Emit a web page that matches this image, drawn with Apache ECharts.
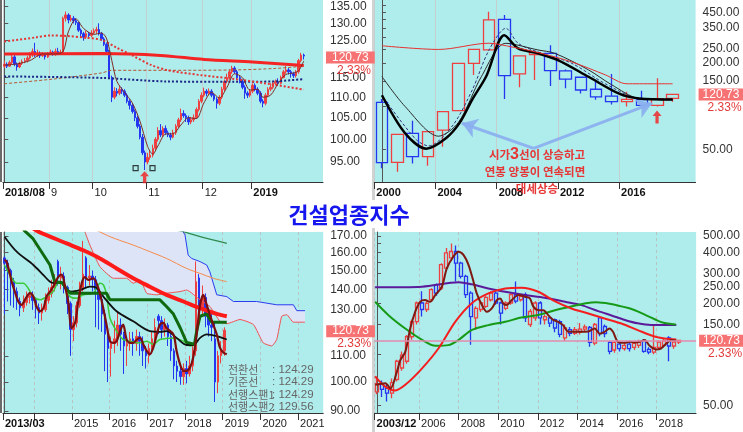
<!DOCTYPE html>
<html>
<head>
<meta charset="utf-8">
<title>건설업종지수</title>
<script src="https://cdn.jsdelivr.net/npm/echarts@6/dist/echarts.min.js"></script>
<style>
  html, body { margin: 0; padding: 0; background: #fff; }
  #chart { width: 743px; height: 432px; }
</style>
</head>
<body>
<div id="chart"></div>
<script>
// 현재가 / 등락률
var lastPrice = 120.73;
var lastRate = '2.33%';

// ---------- 1) 일봉 2018/08 ~ 2019/01  [시가, 종가, 저가, 고가] ----------
var daySlots = 125;
var dayOHLC = [
  [118.0,118.5,117.5,119.5],[118.5,118.0,117.5,119.0],[118.0,119.0,117.8,119.5],[119.0,120.5,118.5,121.5],
  [120.5,118.5,118.0,121.0],[118.5,117.8,116.8,119.0],[117.8,118.8,117.5,119.2],[118.8,119.2,118.3,119.8],
  [119.2,119.5,118.8,120.2],[119.5,120.2,119.0,120.8],[120.2,121.0,119.8,121.8],[121.0,122.0,120.5,122.8],
  [122.0,121.0,120.5,124.4],[121.0,121.5,120.5,122.5],[121.5,120.8,120.2,122.0],[120.8,121.2,120.5,121.8],
  [121.2,120.5,119.8,121.5],[120.5,121.3,120.2,121.8],[121.3,121.8,121.0,122.5],[121.8,121.2,120.8,122.2],
  [121.2,122.0,120.8,122.8],[122.0,121.5,121.0,123.0],[121.5,121.8,121.2,122.5],[121.8,131.5,121.5,132.0],
  [131.5,132.5,130.5,133.5],[132.5,131.0,130.0,133.0],[131.0,131.5,130.5,132.5],[131.5,130.8,130.0,132.2],
  [130.8,130.2,129.5,131.5],[130.2,128.0,127.5,130.5],[128.0,127.0,126.0,128.5],[127.0,126.0,125.0,127.5],
  [126.0,127.0,125.5,127.8],[127.0,126.5,125.8,127.5],[126.5,127.2,126.0,128.0],[127.2,127.8,126.8,128.5],
  [127.8,128.2,127.0,129.0],[128.2,127.0,126.5,130.0],[127.0,125.5,125.0,127.5],[125.5,124.0,123.5,126.0],
  [124.0,122.0,121.5,124.5],[122.0,115.0,114.6,122.5],[115.0,110.0,108.8,115.5],[110.0,111.5,109.5,112.5],
  [111.5,111.0,110.2,112.3],[111.0,112.0,110.5,112.8],[112.0,111.5,110.8,112.5],[111.5,110.5,110.0,112.0],
  [110.5,109.0,108.5,111.0],[109.0,108.0,107.0,109.5],[108.0,106.5,106.0,108.5],[106.5,105.0,104.2,107.0],
  [105.0,103.0,102.5,105.5],[103.0,100.5,100.0,103.5],[100.5,97.0,96.5,101.2],[97.0,95.0,93.3,97.5],
  [95.0,96.0,94.5,97.0],[96.0,96.5,95.5,97.5],[96.5,98.0,96.0,98.8],[98.0,100.0,97.5,100.5],
  [100.0,102.0,99.5,102.8],[102.0,101.0,100.5,103.5],[101.0,102.5,100.5,103.0],[102.5,101.5,101.0,103.2],
  [101.5,101.0,100.5,102.0],[101.0,100.5,99.8,101.5],[100.5,101.5,100.2,102.2],[101.5,103.0,101.0,103.5],
  [103.0,104.5,102.5,105.0],[104.5,106.0,104.0,107.2],[106.0,105.5,105.0,106.8],[105.5,105.0,104.0,106.0],
  [105.0,104.0,103.3,105.5],[104.0,104.5,103.5,105.2],[104.5,105.0,104.0,105.8],[105.0,107.0,104.8,107.5],
  [107.0,109.0,106.5,109.5],[109.0,110.5,108.5,111.2],[110.5,111.5,110.0,112.4],[111.5,111.0,110.2,112.0],
  [111.0,111.5,110.5,112.2],[111.5,110.5,110.0,112.0],[110.5,109.5,109.0,111.0],[109.5,108.5,107.2,110.0],
  [108.5,110.0,108.0,110.5],[110.0,112.0,109.5,112.6],[112.0,114.0,111.5,114.5],[114.0,115.0,113.5,116.0],
  [115.0,116.5,114.5,117.2],[116.5,117.5,116.0,118.1],[117.5,116.5,116.0,118.0],[116.5,115.0,114.5,117.0],
  [115.0,114.0,113.5,115.5],[114.0,112.5,112.0,114.5],[112.5,111.0,109.6,113.0],[111.0,110.5,109.8,111.5],
  [110.5,111.5,110.0,112.0],[111.5,113.0,111.0,113.5],[113.0,112.0,111.5,113.5],[112.0,111.0,110.5,112.5],
  [111.0,109.0,108.5,111.5],[109.0,108.5,107.5,109.5],[108.5,110.5,108.0,111.0],[110.5,112.0,110.0,112.5],
  [112.0,112.5,111.5,113.5],[112.5,113.5,112.0,114.1],[113.5,114.0,113.0,114.5],[114.0,113.5,113.0,114.8],
  [113.5,115.0,113.2,115.5],[115.0,116.5,114.8,117.0],[116.5,117.0,116.0,118.1],[117.0,116.5,115.8,117.5],
  [116.5,116.0,115.0,117.0],[116.0,115.5,114.9,116.5],[115.5,116.5,115.0,117.0],[116.5,119.5,116.0,120.0],
  [119.5,121.0,119.0,121.6],[121.0,120.73,119.8,121.4]
];
var dayMarks = [[-0.5,'2018/08'],[17.5,'9'],[34.5,'10'],[55.5,'11'],[77.5,'12'],[96.5,'2019']];
var dayYLabels = [95,100,105,110,115,125,130,135];
var dayMaThick = [[0,121.3],[38,121.4],[61,120.9],[78,119.8],[97,119.1],[117,118.2]];
var dayMaRedDot = [[0,124.8],[12,125.9],[18,126.5],[25,126.3],[31,125.9],[38,125.2],[44,123.0],[50,120.9],[57,118.4],[64,116.9],[77,115.6],[89,114.7],[103,113.4],[117,111.9]];
var dayMaBlueDot = [[0,115.3],[38,114.9],[63,114.0],[90,113.9],[105,114.0],[117,114.6]];
var dayMaBrown = [[0,113.4],[19,114.6],[38,116.2],[42,116.9],[64,116.9],[90,117.0],[106,117.4],[117,118.0]];
var dayMaShort = [[0,118.3],[5,118.6],[10,119.5],[15,121.3],[20,121.3],[23,122],[25,127.5],[28,131.3],[31,128.5],[35,126.8],[38,127.2],[40,125.5],[42,119.5],[44,114],[47,111.2],[50,108.6],[53,104.2],[56,98.4],[58,96.7],[60,98.5],[63,101.2],[66,101.3],[69,103.3],[72,105],[75,104.8],[78,108.6],[81,111.2],[84,109.8],[87,112.5],[90,116],[93,115],[96,111.8],[99,112],[101,110],[104,110.5],[107,113.5],[110,115.8],[113,116.2],[115,116.8],[117,119.4]];
var dayLowBoxes = [[51.3,93.7],[57.9,93.7]];
var dayArrow = [[54.8,91.8]];

// ---------- 2) 년봉 2000 ~ 2019 ----------
var yearCats = ['2000','2001','2002','2003','2004','2005','2006','2007','2008','2009','2010','2011','2012','2013','2014','2015','2016','2017','2018','2019','2020'];
var yearOHLC = [
  [106,40.4,36.9,112],[40.6,63.6,34.9,64],[64.6,44.4,39.9,79],[44.4,66.4,38.4,67],[68.1,91.5,52.1,92],
  [93,198.6,92,199],[198.6,248.5,164.7,250],[246,398,245,454],[402,163,112,431],[167.6,223.8,135.1,224],
  [228,236,152,238],[232.6,176.8,138,265.4],[175.9,154.2,133,180],[158.8,129.4,122.5,160],[131,115.9,110.8,152.6],
  [117.4,107.4,102.6,167.6],[107.4,111.4,99.3,125.9],[110.8,101.1,99.3,128],[101.1,112.6,99.3,156.3],[113,120.73,107.4,121]
];
var yearMarks = [[-0.5,'2000'],[3.5,'2004'],[7.5,'2008'],[11.5,'2012'],[15.5,'2016']];
var yearYLabels = [50,150,200,250,350,450];
var yearYTicks = [50,100,150,200,250,300,350,400,450,500];
var yearMaRed = [[0,263],[3.7,248],[7,274],[8.5,258],[10.2,236],[12.4,203],[14.6,165],[16,143],[19,143]];
var yearMaBold = [[0,119],[1.5,65],[2.9,50.5],[4.2,60],[5.1,77],[5.9,111],[6.8,160],[8,311],[8.9,252],[10.2,233],[11.5,209],[13.5,160],[15.5,122],[16.8,113],[19,111]];
var yearMaThin = [[0,160.5],[1.5,99.7],[3.7,61.7],[5,77],[6.5,160.5],[8.1,273.6],[10.2,246],[11.3,233],[13.5,178.7],[15,141],[16.8,113],[19,110.8]];
var yearMaDash = [[0.2,110.8],[2.2,58.9],[3.05,52.8],[4.6,72.7],[5.9,129.4],[7,245.9],[8.1,348],[8.9,273.6],[10.2,238],[12.4,198.6],[14.6,143],[16.8,113],[19,110.8]];
var yearArrowFrom = [9.92, 50.8];
var yearArrowTo = [[5.23, 75.9], [17.65, 104.5]];
var yearUpArrow = [[17.98, 84]];

// ---------- 3) 월봉 + 일목균형표 2013/03 ~ 2019/01 ----------
var monSlots = 102;
var monOHLC = [
  [157,154,128,158],[154,150,134,156],[150,144,132,151],[144,139,131,146],[139,134,130,141],[134,131,127,136],
  [131,133.5,129,137],[133.5,136,132,139],[136,137,133,140],[137,134.5,130,139],[134.5,131,126,136],[131,128.5,123.5,133],
  [128.5,130,125,133],[130,134.5,129,138],[134.5,138,133,141],[138,141,136,145],[141,144,139,148],[155,146,142,156],
  [146,147,140,152],[147,141,138,149],[141,133,128,142],[133,121,110,134],[121,124,116,127],[124,132,122,134],
  [132,140,131,144],[140,148,139,167],[157,146,141,158],[146,147,142,153],[147,145,139,150],[145,140,122,147],
  [140,135,121,141],[135,128,120,137],[128,119,104,130],[119,113,100,121],[113,115,102,118],[115,117,111,125],
  [117,123,114,129],[123,119,112,126],[119,114,103,120],[114,115,106,117],[115,117,112,120],[117,115,110,120],
  [115,118,112,121],[118,116,110,120],[116,112,106,118],[112,110,105,114],[110,113,107,115],[113,117,111,120],
  [117,122,115,126],[127,125,119,128],[125,121,117,127],[121,123,118,126],[123,118,114,124],[118,112,108,119],
  [112,106,101,113],[106,104,100,108],[104,102,99,106],[102,105,99,107],[105,103,99.5,108],[103,106,102,110],
  [106,112,104,114],[112,144,110,155],[146,131,126,148],[131,136,128,142],[136,127,122,138],[127,123,118,130],
  [123,122,116,128],[117,100,93,124],[100,110,96,112],[110,112,107,116],[112,120.73,110,122]
];
var monMarks = [[-0.5,'2013/03'],[21.5,'2015'],[33.5,'2016'],[45.5,'2017'],[57.5,'2018'],[69.5,'2019'],[81.5,'2020'],[93.5,'2021']];
var monExtraTicks = [9.5];
var monYLabels = [90,100,110,130,140,150,160,170];
var monMaRed = [[9,175],[10.8,172.7],[19.8,165.5],[25.1,161.4],[30.4,156.7],[35.7,151.1],[41,145.8],[46.3,141.4],[51.6,137.3],[57,134],[62.3,130.8],[67.6,128.1],[70.8,127]];
var monKijun = [[6,174],[9,168.6],[14.5,153],[16,144],[18.5,143.5],[19.8,140],[21,138.1],[32.5,138.1],[33.6,134.8],[49.5,134.8],[51.6,131.6],[53.8,128],[56,121.7],[58,115.5],[60.5,114.7],[61.3,121],[62.3,127],[64.4,128.1],[66,124.3],[70.8,124.3]];
var monMaBlack = [[0,169.6],[3.9,160.6],[9.2,153],[12.4,147.5],[14.5,144],[16.1,143.2],[17.7,144],[19.8,139.7],[21.4,138.9],[24,139.7],[27.2,141.4],[29.3,140.9],[31.5,136.4],[35.7,129.3],[41,124.7],[46.3,120.3],[49.5,120],[51.6,120.3],[54.8,117.4],[58,114.4],[60.1,114.4],[62.3,117.4],[64.4,118.9],[67.6,118.2],[70.8,116.7]];
var monMaLime = [[0,153],[1.8,147.5],[3.9,143.2],[6,143.2],[9.2,136.4],[11.3,134.8],[13.4,136.4],[15.5,138.9],[17.1,143.2],[18.7,142.3],[20.9,136.4],[23,135.6],[25.1,137.3],[28.3,138.1],[29.3,140.6],[30.4,143.2],[31.5,142.3],[32.5,137.3],[33.6,126.2],[35.7,120.3],[37.8,116.7],[40,116],[43.2,115.3],[45.3,116],[47.4,114.7],[49.5,116.7],[53.8,117.4],[57,116],[59.1,114],[61.2,114.7]];
var monMaShort = [[0,155.8],[0.7,154.9],[2.3,144],[3.3,138.9],[4.4,134],[5.5,132.4],[6.5,134.8],[8.1,138.1],[9.2,136.4],[10.2,131.6],[11.3,129.3],[12.4,130.8],[13.4,136.4],[14.5,138.9],[15.5,141.4],[17.1,146.4],[18.2,147.7],[19.3,141.4],[20.3,134],[21.4,121.7],[22.5,124],[23.5,134],[24.6,143.2],[25.6,146.4],[26.7,144.9],[28.3,145.8],[29.9,140.6],[31,134],[32.5,123.2],[33.6,116],[34.7,115.3],[35.7,116],[36.8,120.3],[37.8,123.2],[38.9,116.7],[40,115.3],[41,115.3],[42.1,116.7],[43.2,117.4],[44.2,114.7],[45.3,112],[46.3,110.6],[47.4,113.3],[48.5,118.9],[49.5,123.2],[50.6,124],[51.6,121.7],[53.8,118.9],[54.8,112],[55.9,106.7],[57,104.1],[58,104.1],[59.1,105.4],[60.1,109.3],[61.2,118.9],[62.3,132.4],[63.3,137.3],[64.4,132.4],[65.4,127.7],[66.5,123.2],[67.6,118.9],[68.6,113.3],[69.7,111.3],[70.8,110.6]];
var monSpanA = [[25.6,172.7],[27.2,164.5],[30.4,152.1],[34.7,145.8],[38.9,145.8],[41,143.2],[43.2,144.9],[45.3,138.1],[48.5,137.3],[51.6,138.1],[55.9,138.9],[58,139.7],[62.3,134.8],[65.4,131.6],[68.6,124.7],[70.8,123.6],[75,125.5],[79.3,123.2],[82.4,115.3],[85.1,114],[86.7,116.7],[88.3,127],[89.9,127.7],[92,124.3],[95.7,124.3]];
var monSpanB = [[25.6,180],[56.5,174],[57.5,170.6],[58.5,158.6],[59.6,156.7],[62.3,154.9],[64.4,153],[65.4,149.3],[67.6,137.3],[70.8,136.4],[72.9,134],[80.3,134],[86.7,132.4],[92,132.4],[93.1,129.6],[95.7,129.6]];
var monOrange = [[27,176],[33.6,169.6],[41,164.5],[46.3,160.6],[51.6,156.7],[58,151.1],[62.3,148.4],[66.5,145.8],[70.8,144]];
var monGreenTop = [[55,173.5],[57,172.7],[62.3,169.6],[70.8,165.5]];
var ichiNames = ['전환선', '기준선', '선행스팬1', '선행스팬2'];
var ichiValues = ['124.29', '124.29', '124.29', '129.56'];

// ---------- 4) 분기봉 2003/12 ~ 2019 ----------
var qSlots = 65;
var qOHLC = [
  [60,67,58,74],[67,62,56,70],[63,59,52.6,66],[59,68,55,72],[71,91,69,93],[83,99,80,104],[91,127,88,130],
  [127,156,122,160],[156,201,150,205],[201,184,167,236],[184,200,178,206],[210,241,205,246],[258,230,222,262],
  [246,339,240,345],[323,398,318,424],[371,405,360,452],[405,346,269,440],[346,289,280,352],[289,225,215,295],
  [230,167,114,236],[164,187,139,192],[184,201,178,206],[192,217,188,222],[210,230,205,236],[230,201,196,236],
  [201,175,150,205],[187,201,182,206],[201,225,196,230],[225,206,200,269],[210,220,205,226],[225,164,155,232],
  [150,179,145,185],[164,201,158,206],[201,164,150,206],[160,167,150,172],[164,153,145,168],[160,143,135,163],
  [156,131,126,160],[125,143,120,150],[140,133,128,145],[133,140,130,145],[135,141,131,153],[141,145,136,150],
  [144,117.5,111,147],[116.4,150,113,153],[164,132.5,128,168],[146,132.5,126,150],[117.5,104,100,120],
  [106,117.5,102,120],[115,108,104,118],[108,113,105,117],[115,108,104,118],[110,116,106,120],[113,118,109,122],
  [120,104,102,123],[107,103,100,110],[103,110,100,150],[110,118,107,121],[113,120,110,125],[125,112,91,128],
  [112,118,108,121],[118,120.73,115,122]
];
var qMarks = [[-0.5,'2003/12'],[8.5,'2006'],[16.5,'2008'],[24.5,'2010'],[32.5,'2012'],[40.5,'2014'],[48.5,'2016'],[56.5,'2018']];
var qYLabels = [50,150,200,250,300,400,500];
var qYTicks = [50,100,150,200,250,300,350,400,450,500];
var qMaPurple = [[-0.4,248.8],[9.1,251.1],[16.5,266.4],[19.1,259.2],[22.5,245],[25.9,234.2],[29.9,223.8],[33.9,215.8],[38,204.3],[41.3,195.3],[44.7,180],[47.4,169.6],[50.1,159.6],[52.7,152.4],[55.4,149],[60.5,149]];
var qMaGreen = [[-0.4,204.3],[2.3,170.4],[5.7,142.1],[9.1,121.8],[11.8,112.3],[14.4,113.3],[16.5,121.8],[19.1,138.9],[22.5,148.7],[25.9,155.6],[29.2,164.9],[32.3,170],[37.6,187],[44.3,203],[51,187],[54.4,170],[57.7,154],[60.4,150]];
var qMaRed = [[-0.4,74],[1.7,64.2],[3.7,61.2],[5.7,66],[9.1,82.6],[12.4,108.2],[15.8,155.6],[19.1,199.8],[22.5,229],[25.9,245],[29.2,247.4],[32.6,234.2],[35.9,206.2],[39.3,186.6],[42.7,174.4],[46,162.8],[49.4,152.1],[52.7,139],[56.1,127.3],[58.1,124],[60.5,122.4]];
var qMaShort = [[-0.35,66],[1.67,67.5],[2.7,62.8],[4.0,78.8],[4.7,92.3],[5.7,103.4],[6.7,142.1],[7.7,178.3],[8.7,204.3],[9.7,209],[10.7,204.3],[11.75,223.8],[13.1,251.1],[14.1,321.8],[15.4,376.9],[16.45,403.9],[17.5,386],[18.5,336.8],[19.5,268.4],[20.15,229],[21.2,195.3],[22.2,178.3],[23.2,186.6],[24.2,209],[24.9,213.8],[25.5,199.8],[26.2,195.3],[27.2,209],[28.6,223.8],[29.9,218.8],[30.9,213.8],[31.6,191.1],[32.6,182.4],[33.6,182.4],[34.6,170.4],[35.6,159.6],[36.6,155.6],[37.6,148.7],[38.6,136.4],[40,135.8],[41.3,135.8],[42.7,136.4],[44,142.1],[45,132.4],[46,135.8],[47,142.1],[47.7,135.8],[48.7,118.5],[50.1,116.9],[51.1,118.5],[52.1,117.5],[53.1,118.5],[54.1,121.5],[55.1,112.3],[56.4,106.9],[57.4,108.2],[58.5,115.9],[59.5,121.5],[60.5,120.3]];

// ---------- 공통 ----------
var BG = '#AFECEC';
var RED = '#EE4040';
var BLUE = '#2436F0';
var NUMFONT = '"Liberation Sans", Arial, sans-serif';
var KRFONT = '"Noto Sans CJK KR", sans-serif';
var ARROW = 'path://M5,0L10,6H6.8V14H3.2V6H0Z';
var L = Math.log;

function lnK(a) { return a.map(function (d) { return [L(d[0]), L(d[1]), L(d[2]), L(d[3])]; }); }
function lnP(a) { return a.map(function (p) { return [p[0], L(p[1])]; }); }
function slots(n) { var s = []; for (var i = 0; i < n; i++) s.push(String(i)); return s; }

function catAxis(gi, cats) {
  return { type: 'category', gridIndex: gi, data: cats, boundaryGap: true, show: false };
}
function markAxis(gi, n, marks, extra, dashed, boldYears) {
  var vals = marks.map(function (m) { return m[0]; });
  return {
    type: 'value', gridIndex: gi, min: -0.5, max: n - 0.5, position: 'bottom',
    axisLine: { show: true, onZero: false, lineStyle: { color: '#333' } },
    axisTick: { show: true, length: 7, customValues: vals.concat(extra || []), lineStyle: { color: '#333' } },
    axisLabel: {
      customValues: vals, align: 'left', margin: 5, padding: [0, 0, 0, 2],
      formatter: function (v) {
        for (var i = 0; i < marks.length; i++) {
          if (Math.abs(marks[i][0] - v) < 1e-6) {
            var t = marks[i][1];
            var b = i === 0 || (boldYears && t.length >= 4);
            return (b ? '{b|' : '{n|') + t + '}';
          }
        }
        return '';
      },
      rich: {
        b: { fontWeight: 'bold', fontSize: 11, color: '#111', fontFamily: NUMFONT },
        n: { fontSize: 11, color: '#222', fontFamily: NUMFONT }
      }
    },
    splitLine: { show: true, lineStyle: { color: dashed ? '#B8C4C4' : '#C6CFCF', type: dashed ? [3, 3] : 'solid' } }
  };
}
function lnAxis(gi, lo, hi, labels, ticks) {
  return {
    type: 'value', gridIndex: gi, position: 'right', min: L(lo), max: L(hi),
    axisLine: { show: true, lineStyle: { color: '#555' } },
    axisTick: { show: true, length: 4, customValues: (ticks || labels).map(L), lineStyle: { color: '#555' } },
    axisLabel: {
      customValues: labels.map(L), margin: 7, color: '#333', fontSize: 12, fontFamily: NUMFONT,
      formatter: function (v) { return Math.exp(v).toFixed(2); }
    },
    splitLine: { show: false }
  };
}
// 현재가 박스 + 등락률 (한 라벨 안에 세 줄: 빈 줄로 박스를 가격선 높이에 맞춤)
function priceTag(showLine, padX) {
  return {
    symbol: 'none', silent: true, animation: false,
    lineStyle: showLine ? { color: '#E58AAE', width: 1.5, type: 'solid' } : { color: 'rgba(0,0,0,0)', width: 1 },
    label: {
      show: true, position: 'end', distance: 3,
      formatter: '{e| }\n{a|' + lastPrice + '}\n{b|' + lastRate + '}',
      rich: {
        e: { fontSize: 12, lineHeight: 13, color: 'rgba(0,0,0,0)' },
        a: { fontSize: 12, lineHeight: 13, color: '#ffffff', backgroundColor: '#F77272',
             padding: [0, padX, 0, padX], fontFamily: NUMFONT },
        b: { fontSize: 12, lineHeight: 13, color: '#E23B3B', padding: [0, 0, 0, padX + 5], fontFamily: NUMFONT }
      }
    },
    data: [{ yAxis: L(lastPrice) }]
  };
}
function candle(xi, yi, data, w, hollow, tag) {
  return {
    type: 'candlestick', xAxisIndex: xi, yAxisIndex: yi, data: lnK(data), barWidth: w, silent: true,
    itemStyle: {
      color: hollow ? 'rgba(0,0,0,0)' : RED, color0: hollow ? 'rgba(0,0,0,0)' : BLUE,
      borderColor: RED, borderColor0: BLUE, borderWidth: hollow ? 1.3 : 1
    },
    markLine: tag
  };
}
function line(xi, yi, pts, color, width, type, smooth) {
  return {
    type: 'line', xAxisIndex: xi, yAxisIndex: yi, data: lnP(pts), symbol: 'none', silent: true,
    smooth: smooth === undefined ? 0.3 : smooth,
    lineStyle: { color: color, width: width, type: type || 'solid' }
  };
}

var chart = echarts.init(document.getElementById('chart'));

var series = [
  // 1) 일봉
  candle(0, 0, dayOHLC, 2, false, priceTag(false, 6)),
  line(1, 0, dayMaBrown, '#B5562E', 1, [3, 2]),
  line(1, 0, dayMaBlueDot, '#1A2785', 2, [2, 2]),
  line(1, 0, dayMaRedDot, '#E43434', 2, [2, 2]),
  line(1, 0, dayMaThick, '#F42424', 3),
  line(1, 0, dayMaShort, '#7E2A24', 1),
  { type: 'scatter', xAxisIndex: 1, yAxisIndex: 0, data: lnP(dayLowBoxes), symbol: 'rect', symbolSize: 5, silent: true,
    itemStyle: { color: 'rgba(0,0,0,0)', borderColor: '#111', borderWidth: 1.2 } },
  { type: 'scatter', xAxisIndex: 1, yAxisIndex: 0, data: lnP(dayArrow), symbol: ARROW, symbolSize: [9, 12], silent: true,
    itemStyle: { color: '#F21E1E' } },

  // 2) 년봉
  candle(2, 1, yearOHLC, 12, true, priceTag(false, 4)),
  line(3, 1, yearMaDash, '#34357E', 1, [3, 2]),
  line(3, 1, yearMaThin, '#2A2A2A', 1),
  line(3, 1, yearMaBold, '#000000', 2.5),
  Object.assign(line(3, 1, yearMaRed, '#E83030', 1), {
    markLine: {
      silent: true, animation: false, symbol: ['none', 'arrow'], symbolSize: 15,
      lineStyle: { color: '#8AAEF0', width: 3, type: 'solid', opacity: 0.9 }, label: { show: false },
      data: yearArrowTo.map(function (p) {
        return [{ coord: [yearArrowFrom[0], L(yearArrowFrom[1])] }, { coord: [p[0], L(p[1])] }];
      })
    }
  }),
  { type: 'scatter', xAxisIndex: 3, yAxisIndex: 1, data: lnP(yearUpArrow), symbol: ARROW, symbolSize: [9, 13], silent: true,
    itemStyle: { color: '#F21E1E' } },

  // 3) 월봉 + 구름대
  { type: 'custom', xAxisIndex: 5, yAxisIndex: 2, clip: true, silent: true, data: [[0, 0]],
    renderItem: function (params, api) {
      var pts = monSpanA.map(function (p) { return api.coord([p[0], L(p[1])]); })
        .concat(monSpanB.slice().reverse().map(function (p) { return api.coord([p[0], L(p[1])]); }));
      return { type: 'polygon', shape: { points: pts }, style: { fill: '#DDE4F7' } };
    } },
  candle(4, 2, monOHLC, 2, false, priceTag(false, 6)),
  line(5, 2, monSpanA, '#F05050', 1, 'solid', 0.15),
  line(5, 2, monSpanB, '#2A3BF0', 1, 'solid', 0),
  line(5, 2, monOrange, '#F58A4A', 1),
  line(5, 2, monGreenTop, '#2E8A4E', 1.2),
  line(5, 2, monMaLime, '#3ACB3A', 1.5),
  line(5, 2, monMaBlack, '#111111', 1.8),
  line(5, 2, monKijun, '#0F6A0F', 3, 'solid', false),
  line(5, 2, monMaRed, '#FF1A1A', 4),
  line(5, 2, monMaShort, '#7E0E0E', 2.2),

  // 4) 분기봉
  candle(6, 3, qOHLC, 3.5, true, priceTag(true, 4)),
  line(7, 3, qMaPurple, '#5B1A9A', 2),
  line(7, 3, qMaGreen, '#169A16', 2),
  line(7, 3, qMaRed, '#F41E1E', 2),
  line(7, 3, qMaShort, '#7E1A12', 2)
];

var graphic = [
  { type: 'rect', shape: { x: 372, y: 0, width: 3, height: 200 }, style: { fill: '#D2D2D2' }, silent: true },
  { type: 'rect', shape: { x: 372, y: 228, width: 3, height: 204 }, style: { fill: '#D2D2D2' }, silent: true },
  { type: 'rect', shape: { x: 0, y: 0, width: 2, height: 182 }, style: { fill: '#6A6A6A' }, silent: true },
  { type: 'rect', shape: { x: 0, y: 232, width: 2, height: 181 }, style: { fill: '#6A6A6A' }, silent: true },
  { type: 'text', silent: true, style: { text: '건설업종지수', x: 349, y: 215, align: 'center', verticalAlign: 'middle',
    font: 'bold 22px ' + KRFONT, fill: '#1616EE' } },
  { type: 'text', silent: true, z: 10, style: { text: '시가{t|3}선이 상승하고', x: 537, y: 155, align: 'center', verticalAlign: 'middle',
    font: 'bold 11.5px ' + KRFONT, fill: '#E63636',
    rich: { t: { fontSize: 16, fontWeight: 'bold', fill: '#E63636', fontFamily: NUMFONT } } } },
  { type: 'text', silent: true, z: 10, style: { text: '연봉 양봉이 연속되면', x: 535, y: 172, align: 'center', verticalAlign: 'middle',
    font: 'bold 11.5px ' + KRFONT, fill: '#E63636' } },
  { type: 'text', silent: true, z: 10, style: { text: '대세상승', x: 537, y: 189, align: 'center', verticalAlign: 'middle',
    font: 'bold 11.5px ' + KRFONT, fill: '#E63636' } }
];
ichiNames.forEach(function (n, i) {
  var y = 370 + i * 12.3;
  graphic.push({ type: 'text', silent: true, z: 10, style: { text: n, x: 228, y: y, verticalAlign: 'middle', font: '11px ' + KRFONT, fill: '#666' } });
  graphic.push({ type: 'text', silent: true, z: 10, style: { text: ': ' + ichiValues[i], x: 272, y: y, verticalAlign: 'middle', font: '11.5px ' + NUMFONT, fill: '#666' } });
});

var option = {
  animation: false,
  backgroundColor: '#ffffff',
  textStyle: { fontFamily: NUMFONT },
  grid: [
    { left: 3, top: 0, width: 320, height: 182, show: true, backgroundColor: BG, borderWidth: 0 },
    { left: 374.3, top: 0, width: 321.3, height: 182, show: true, backgroundColor: BG, borderWidth: 0 },
    { left: 2.9, top: 232, width: 320.3, height: 181, show: true, backgroundColor: BG, borderWidth: 0 },
    { left: 374.6, top: 232, width: 321.5, height: 181, show: true, backgroundColor: BG, borderWidth: 0 }
  ],
  xAxis: [
    catAxis(0, slots(daySlots)), markAxis(0, daySlots, dayMarks, [], false, true),
    catAxis(1, yearCats), markAxis(1, yearCats.length, yearMarks, [], false, true),
    catAxis(2, slots(monSlots)), markAxis(2, monSlots, monMarks, monExtraTicks, true, false),
    catAxis(3, slots(qSlots)), markAxis(3, qSlots, qMarks, [], true, false)
  ],
  yAxis: [
    lnAxis(0, 90.8, 137.05, dayYLabels),
    lnAxis(1, 29.6, 548, yearYLabels, yearYTicks),
    lnAxis(2, 89.35, 172.5, monYLabels),
    lnAxis(3, 45.0, 528, qYLabels, qYTicks)
  ],
  series: series,
  graphic: graphic
};

chart.setOption(option);
window.onresize = function () { chart.resize(); };
</script>
</body>
</html>
